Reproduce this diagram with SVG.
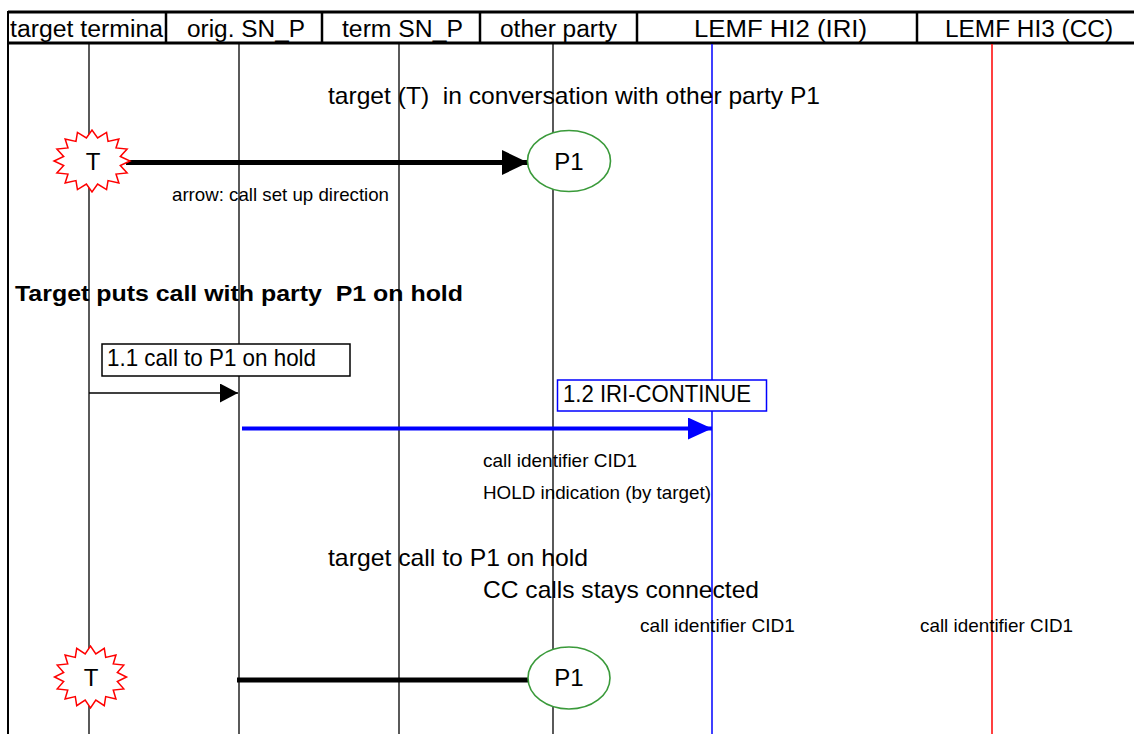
<svg xmlns="http://www.w3.org/2000/svg" width="1134" height="734" viewBox="0 0 1134 734">
<style>
text{font-family:"Liberation Sans",Arial,sans-serif;fill:#000;white-space:pre}
.hdr{font-size:23px}
.big{font-size:24px}
.sm{font-size:18.5px}
.life{stroke:#000;stroke-width:1.3}
.star{fill:#fff;stroke:#f00;stroke-width:1.5}
.p1{fill:#fff;stroke:#3a9a3a;stroke-width:1.6}
</style>
<defs>
<polygon id="star" vector-effect="non-scaling-stroke" points="1,0 .745,.148 .924,.383 .632,.422 .707,.707 .422,.632 .383,.924 .148,.745 0,1 -.148,.745 -.383,.924 -.422,.632 -.707,.707 -.632,.422 -.924,.383 -.745,.148 -1,0 -.745,-.148 -.924,-.383 -.632,-.422 -.707,-.707 -.422,-.632 -.383,-.924 -.148,-.745 0,-1 .148,-.745 .383,-.924 .422,-.632 .707,-.707 .632,-.422 .924,-.383 .745,-.148"/>
<marker id="ahBig" markerUnits="userSpaceOnUse" markerWidth="27" markerHeight="26" refX="26" refY="12.5" orient="auto"><path d="M0,0 L26,12.5 L0,25 z" fill="#000"/></marker>
<marker id="ahSmall" markerUnits="userSpaceOnUse" markerWidth="19" markerHeight="20" refX="18" refY="9.5" orient="auto"><path d="M0,0 L18,9.5 L0,19 z" fill="#000"/></marker>
<marker id="ahBlue" markerUnits="userSpaceOnUse" markerWidth="25" markerHeight="23" refX="24" refY="11" orient="auto"><path d="M0,0 L24,11 L0,22 z" fill="#00f"/></marker>
</defs>
<rect width="1134" height="734" fill="#fff"/>

<g id="header">
<line x1="8" y1="12" x2="1134" y2="12" stroke="#000" stroke-width="3"/>
<line x1="8" y1="43" x2="1134" y2="43" stroke="#000" stroke-width="3"/>
<line x1="8" y1="11" x2="8" y2="734" stroke="#000" stroke-width="2"/>
<line x1="166" y1="12" x2="166" y2="43" stroke="#000" stroke-width="2.5"/>
<line x1="322" y1="12" x2="322" y2="43" stroke="#000" stroke-width="2.5"/>
<line x1="480" y1="12" x2="480" y2="43" stroke="#000" stroke-width="2.5"/>
<line x1="637" y1="12" x2="637" y2="43" stroke="#000" stroke-width="2.5"/>
<line x1="917" y1="12" x2="917" y2="43" stroke="#000" stroke-width="2.5"/>
<text class="hdr" x="10" y="37" textLength="153" lengthAdjust="spacingAndGlyphs">target termina</text>
<text class="hdr" x="187" y="37" textLength="118" lengthAdjust="spacingAndGlyphs">orig. SN_P</text>
<text class="hdr" x="342" y="37" textLength="121" lengthAdjust="spacingAndGlyphs">term SN_P</text>
<text class="hdr" x="500" y="37" textLength="117" lengthAdjust="spacingAndGlyphs">other party</text>
<text class="hdr" x="694" y="37" textLength="173" lengthAdjust="spacingAndGlyphs">LEMF HI2 (IRI)</text>
<text class="hdr" x="945" y="37" textLength="168" lengthAdjust="spacingAndGlyphs">LEMF HI3 (CC)</text>
</g>

<g id="lifelines">
<line class="life" x1="89" y1="44" x2="89" y2="734"/>
<line class="life" x1="239" y1="44" x2="239" y2="734"/>
<line class="life" x1="399" y1="44" x2="399" y2="734"/>
<line class="life" x1="553" y1="44" x2="553" y2="734"/>
<line x1="712" y1="44" x2="712" y2="734" stroke="#00f" stroke-width="1.5"/>
<line x1="992" y1="44" x2="992" y2="734" stroke="#f00" stroke-width="1.5"/>
</g>

<g id="labels">
<text class="big" x="328" y="104" textLength="492" lengthAdjust="spacingAndGlyphs">target (T)  in conversation with other party P1</text>
<text class="sm" x="172" y="201" textLength="217" lengthAdjust="spacingAndGlyphs">arrow: call set up direction</text>
<text x="15" y="301" font-size="22" font-weight="bold" textLength="448" lengthAdjust="spacingAndGlyphs">Target puts call with party  P1 on hold</text>
<text class="sm" x="483" y="467" textLength="154" lengthAdjust="spacingAndGlyphs">call identifier CID1</text>
<text class="sm" x="483" y="499" textLength="228" lengthAdjust="spacingAndGlyphs">HOLD indication (by target)</text>
<text class="big" x="328" y="566" textLength="260" lengthAdjust="spacingAndGlyphs">target call to P1 on hold</text>
<text class="big" x="483" y="598" textLength="276" lengthAdjust="spacingAndGlyphs">CC calls stays connected</text>
<text class="sm" x="640" y="632" textLength="155" lengthAdjust="spacingAndGlyphs">call identifier CID1</text>
<text class="sm" x="920" y="632" textLength="153" lengthAdjust="spacingAndGlyphs">call identifier CID1</text>
</g>

<g id="connectors">
<line x1="126" y1="162.5" x2="528" y2="162.5" stroke="#000" stroke-width="5" marker-end="url(#ahBig)"/>
<line x1="89" y1="393" x2="238" y2="393" stroke="#000" stroke-width="1.3" marker-end="url(#ahSmall)"/>
<line x1="242" y1="428.5" x2="712" y2="428.5" stroke="#00f" stroke-width="3.8" marker-end="url(#ahBlue)"/>
<line x1="237" y1="680" x2="529" y2="680" stroke="#000" stroke-width="5"/>
</g>

<g id="node-T-top">
<use href="#star" class="star" transform="translate(92,161) scale(38,31)"/>
<text class="big" x="93" y="170" text-anchor="middle">T</text>
</g>
<g id="node-P1-top">
<ellipse class="p1" cx="569" cy="161" rx="41.5" ry="30.5"/>
<text class="big" x="569" y="170" text-anchor="middle">P1</text>
</g>
<g id="node-msg-1-1">
<rect x="102" y="344" width="248" height="32" fill="#fff" stroke="#000" stroke-width="1.5"/>
<text class="big" x="107" y="366" textLength="209" lengthAdjust="spacingAndGlyphs">1.1 call to P1 on hold</text>
</g>
<g id="node-msg-1-2">
<rect x="557.5" y="380" width="209" height="31" fill="#fff" stroke="#00f" stroke-width="1.5"/>
<text class="big" x="563" y="402" textLength="188" lengthAdjust="spacingAndGlyphs">1.2 IRI-CONTINUE</text>
</g>
<g id="node-T-bottom">
<use href="#star" class="star" transform="translate(90.5,677) scale(36,31)"/>
<text class="big" x="91" y="686" text-anchor="middle">T</text>
</g>
<g id="node-P1-bottom">
<ellipse class="p1" cx="569" cy="678" rx="41" ry="31"/>
<text class="big" x="569" y="686" text-anchor="middle">P1</text>
</g>
</svg>
